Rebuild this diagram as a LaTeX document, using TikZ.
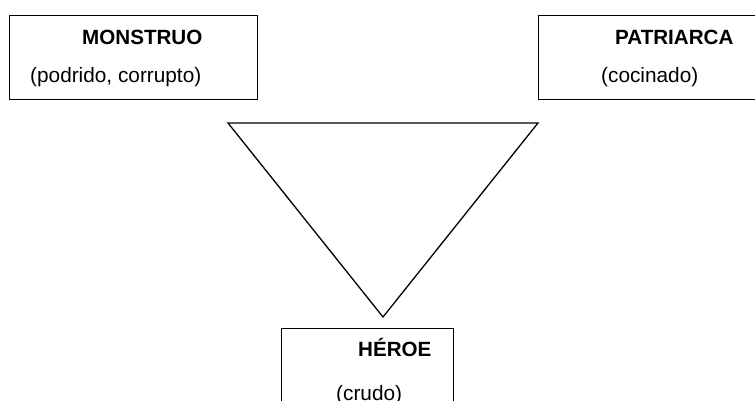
\documentclass[tikz,border=0pt]{standalone}
\usepackage{fontspec}
\setmainfont{Liberation Sans}
\begin{document}
\begin{tikzpicture}[x=1pt,y=1pt,
  frame/.style={draw=black,line width=1.3pt,rectangle,inner sep=0pt},
  title/.style={font=\fontsize{20.6}{24}\selectfont\bfseries,anchor=base west,inner sep=0pt},
  sub/.style={font=\fontsize{20.8}{24}\selectfont,anchor=base west,inner sep=0pt}]
\useasboundingbox (0,0) rectangle (755,401);
\begin{scope}
\clip (0,0) rectangle (755,401);
% boxes (pixel y measured from top; y = 401 - py)
\node[frame,minimum width=248pt,minimum height=84pt,anchor=north west] (mbox) at (9,386) {};
\node[frame,minimum width=240pt,minimum height=84pt,anchor=north west] (pbox) at (538,386) {};
\node[frame,minimum width=172pt,minimum height=90pt,anchor=north west] (hbox) at (281,73) {};
% triangle
\coordinate (tl) at (228,278);
\coordinate (tr) at (538,278);
\coordinate (ap) at (383,84);
\draw[line width=1.3pt,line join=miter] (tl) -- (tr) -- (ap) -- cycle;
% texts
\node[title] (mt) at (82,356) {MONSTRUO};
\node[sub] (ms) at (30,318) {(podrido, corrupto)};
\node[title] (pt) at (615,356) {PATRIARCA};
\node[sub] (ps) at (601,318) {(cocinado)};
\node[title] (ht) at (358,44) {HÉROE};
\node[sub] (hs) at (336,0) {(crudo)};
\end{scope}
\end{tikzpicture}
\end{document}
